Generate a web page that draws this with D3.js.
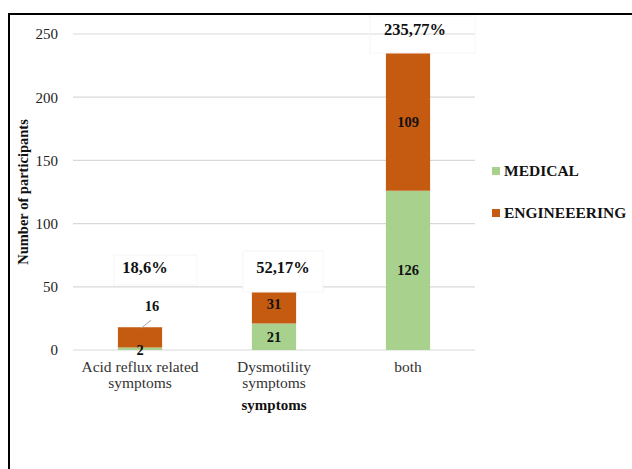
<!DOCTYPE html>
<html>
<head>
<meta charset="utf-8">
<script src="https://cdn.jsdelivr.net/npm/d3@7"></script>
<style>
  body { margin: 0; background: #fff; }
  svg text { font-family: "Liberation Serif", "DejaVu Serif", serif; }
</style>
</head>
<body>
<div id="chart"></div>
<script>
// data
var categories = [["Acid reflux related", "symptoms"], ["Dysmotility", "symptoms"], ["both"]];
var medical = [2, 21, 126];
var engineering = [16, 31, 109];
var percentLabels = ["18,6%", "52,17%", "235,77%"];
var yTicks = [0, 50, 100, 150, 200, 250];
var seriesNames = ["MEDICAL", "ENGINEEERING"];
var colors = ["#a9d18e", "#c55a11"];

var serif = "'Liberation Serif', 'DejaVu Serif', serif";
var width = 632, height = 469;
var margin = {left: 73, right: 157, top: 34, bottom: 119};

var svg = d3.select("#chart").append("svg")
    .attr("width", width)
    .attr("height", height)
    .attr("font-family", serif);

svg.append("rect").attr("width", width).attr("height", height).attr("fill", "#fff");

var x = d3.scaleBand()
    .domain(d3.range(categories.length))
    .range([margin.left, width - margin.right])
    .paddingInner(0.67)
    .paddingOuter(0.335);

var y = d3.scaleLinear()
    .domain([0, 250])
    .range([height - margin.bottom, margin.top]);

var cx = function (i) { return x(i) + x.bandwidth() / 2; };
var totals = medical.map(function (m, i) { return m + engineering[i]; });

// gridlines
svg.append("g").selectAll("line")
    .data(yTicks)
    .enter().append("line")
    .attr("x1", margin.left).attr("x2", width - margin.right)
    .attr("y1", function (d) { return y(d); })
    .attr("y2", function (d) { return y(d); })
    .attr("stroke", "#d9d9d9")
    .attr("stroke-width", 1.2);

// y axis labels
var yAxis = svg.append("g")
    .attr("transform", "translate(" + (margin.left - 15) + ",0)")
    .call(d3.axisLeft(y).tickValues(yTicks).tickSize(0).tickPadding(0));
yAxis.select(".domain").remove();
yAxis.selectAll("text")
    .attr("font-family", serif)
    .attr("font-size", 15)
    .attr("fill", "#222");

// stacked bars
var stacked = d3.stack().keys([0, 1])(categories.map(function (c, i) {
    return {0: medical[i], 1: engineering[i]};
}));

svg.append("g").selectAll("g")
    .data(stacked)
    .enter().append("g")
    .attr("fill", function (d, i) { return colors[i]; })
    .selectAll("rect")
    .data(function (d) { return d; })
    .enter().append("rect")
    .attr("x", function (d, i) { return x(i); })
    .attr("width", x.bandwidth())
    .attr("y", function (d) { return y(d[1]); })
    .attr("height", function (d) { return y(d[0]) - y(d[1]); });

// percent callouts: faint white boxes, as in the source
var boxes = [
    {x: 114, y: 255, w: 83, h: 30},
    {x: 243, y: 251, w: 80, h: 41},
    {x: 370, y: 16, w: 105, h: 37}
];
svg.append("g").selectAll("rect")
    .data(boxes)
    .enter().append("rect")
    .attr("x", function (d) { return d.x; })
    .attr("y", function (d) { return d.y; })
    .attr("width", function (d) { return d.w; })
    .attr("height", function (d) { return d.h; })
    .attr("fill", function (d, i) { return i === 1 ? "#fff" : "none"; })
    .attr("stroke", "#f6f6f6")
    .attr("stroke-width", 1);

svg.append("g").selectAll("text")
    .data(percentLabels)
    .enter().append("text")
    .attr("x", function (d, i) { return cx(i) + [5, 9, 7][i]; })
    .attr("y", function (d, i) { return i === 2 ? y(250) + 1 : y(61); })
    .attr("text-anchor", "middle")
    .attr("font-size", 16.5)
    .attr("font-weight", "bold")
    .attr("fill", "#111")
    .text(function (d) { return d; });

// value labels
var labelGroup = svg.append("g")
    .attr("font-size", 14.5)
    .attr("font-weight", "bold")
    .attr("text-anchor", "middle")
    .attr("fill", "#111");

// medical labels
labelGroup.selectAll("text.med")
    .data(medical)
    .enter().append("text")
    .attr("class", "med")
    .attr("x", function (d, i) { return cx(i); })
    .attr("y", function (d, i) { return i === 0 ? y(0) + 5 : y(d / 2) + 5; })
    .text(function (d) { return d; });

// engineering labels
labelGroup.selectAll("text.eng")
    .data(engineering)
    .enter().append("text")
    .attr("class", "eng")
    .attr("x", function (d, i) { return cx(i) + (i === 0 ? 12 : 0); })
    .attr("y", function (d, i) {
        if (i === 0) return y(totals[i]) - 16;
        return y(medical[i] + d / 2) + 5;
    })
    .text(function (d) { return d; });

// leader line for the small bar label
svg.append("line")
    .attr("x1", cx(0) + 1).attr("y1", y(totals[0]) + 1)
    .attr("x2", cx(0) + 11).attr("y2", y(totals[0]) - 7)
    .attr("stroke", "#a6a6a6")
    .attr("stroke-width", 1);

// x labels
var xLabels = svg.append("g").selectAll("text")
    .data(categories)
    .enter().append("text")
    .attr("text-anchor", "middle")
    .attr("font-size", 15.5)
    .attr("fill", "#333")
    .attr("x", function (d, i) { return cx(i); })
    .attr("y", y(0) + 22);

xLabels.selectAll("tspan")
    .data(function (d) { return d; })
    .enter().append("tspan")
    .attr("x", function () { return d3.select(this.parentNode).attr("x"); })
    .attr("dy", function (d, j) { return j === 0 ? 0 : 16; })
    .text(function (d) { return d; });

// axis titles
svg.append("text")
    .attr("x", cx(1))
    .attr("y", y(0) + 60)
    .attr("text-anchor", "middle")
    .attr("font-size", 15)
    .attr("font-weight", "bold")
    .attr("fill", "#111")
    .text("symptoms");

svg.append("text")
    .attr("transform", "translate(28," + y(125) + ") rotate(-90)")
    .attr("text-anchor", "middle")
    .attr("font-size", 14.5)
    .attr("font-weight", "bold")
    .attr("fill", "#111")
    .text("Number of participants");

// legend
var legend = svg.append("g").selectAll("g")
    .data(seriesNames)
    .enter().append("g")
    .attr("transform", function (d, i) { return "translate(492," + (167 + i * 42) + ")"; });

legend.append("rect")
    .attr("width", 8).attr("height", 8)
    .attr("fill", function (d, i) { return colors[i]; });

legend.append("text")
    .attr("x", 12).attr("y", 9)
    .attr("font-size", 15.5)
    .attr("font-weight", "bold")
    .attr("fill", "#111")
    .text(function (d) { return d; });

// outer frame (runs off right and bottom)
svg.append("rect")
    .attr("x", 9).attr("y", 14)
    .attr("width", 640).attr("height", 470)
    .attr("fill", "none")
    .attr("stroke", "#000")
    .attr("stroke-width", 2);
</script>
</body>
</html>
